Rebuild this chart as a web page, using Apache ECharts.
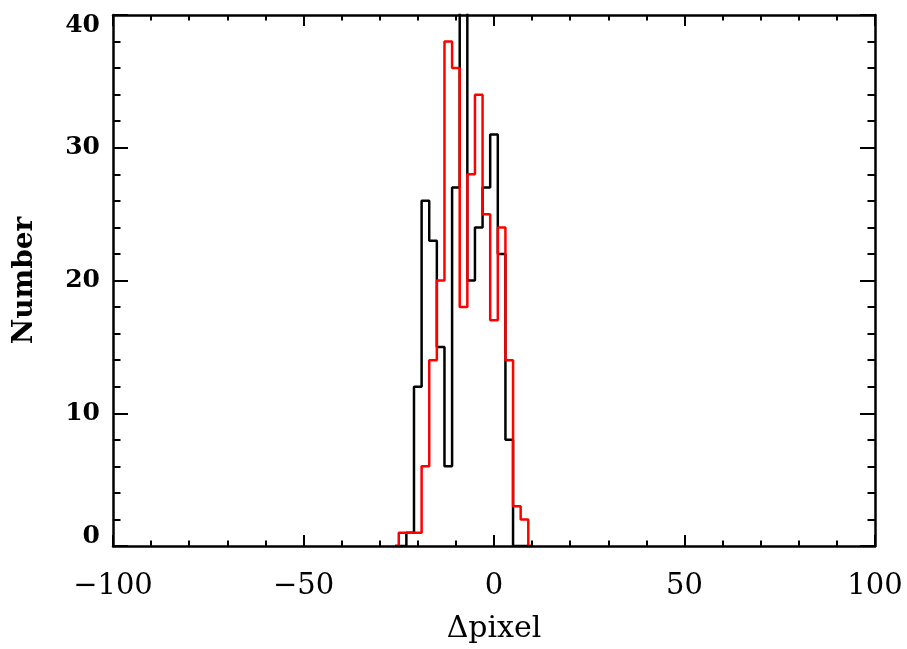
<!DOCTYPE html>
<html>
<head>
<meta charset="utf-8">
<script src="https://cdn.jsdelivr.net/npm/echarts@6/dist/echarts.min.js"></script>
<style>
html,body{margin:0;padding:0;background:#fff;overflow:hidden;}
#chart{width:907px;height:649px;}
</style>
</head>
<body>
<div id="chart"></div>
<script>
// Histogram bin centers (bin width 2)
var binCenters = [-24, -22, -20, -18, -16, -14, -12, -10, -8, -6, -4, -2, 0, 2, 4, 6, 8];
var blackCounts = [0, 1, 12, 26, 23, 15, 6, 27, 41, 20, 24, 27, 31, 22, 8, 0, 0];
var redCounts   = [1, 1, 1, 6, 14, 20, 38, 36, 18, 28, 34, 25, 17, 24, 14, 3, 2];
var xRange = [-100, 100];
var yRange = [0, 40];
var xTickStep = 50;
var yTickStep = 10;
var xTitle = '\u0394pixel';
var yTitle = 'Number';

// Step line through bin centers, with an empty neighbouring bin at each side so edges close at zero
function stepData(centers, counts) {
  var w = centers[1] - centers[0];
  var out = [[centers[0] - w, 0]];
  for (var i = 0; i < centers.length; i++) out.push([centers[i], counts[i]]);
  out.push([centers[centers.length - 1] + w, 0]);
  return out;
}

var font = 'DejaVu Serif';
var axisLine = {show: true, onZero: false, lineStyle: {color: '#000', width: 2.5}};
var tickStyle = {color: '#000', width: 2};

var chart = echarts.init(document.getElementById('chart'), null, {renderer: 'canvas', width: 907, height: 649});
chart.setOption({
  animation: false,
  backgroundColor: '#fff',
  grid: {left: 113, top: 15, width: 762, height: 540, containLabel: false},
  xAxis: [{
    type: 'value', position: 'bottom', min: xRange[0], max: xRange[1], interval: xTickStep, z: 10,
    axisLine: axisLine,
    axisTick: {show: true, inside: true, length: 11, lineStyle: tickStyle},
    minorTick: {show: true, splitNumber: 5, length: 5.5, lineStyle: tickStyle},
    splitLine: {show: false},
    axisLabel: {
      show: true, margin: 26, color: '#000', fontFamily: font, fontSize: 29,
      formatter: function (v) { return v < 0 ? '\u2212' + Math.abs(v) : String(v); }
    },
    name: xTitle, nameLocation: 'middle', nameGap: 68,
    nameTextStyle: {color: '#000', fontFamily: font, fontSize: 30}
  }, {
    type: 'value', position: 'top', min: xRange[0], max: xRange[1], interval: xTickStep, z: 10,
    axisLine: axisLine,
    axisTick: {show: true, inside: true, length: 11, lineStyle: tickStyle},
    minorTick: {show: true, splitNumber: 5, length: 5.5, lineStyle: tickStyle},
    splitLine: {show: false},
    axisLabel: {show: false}
  }],
  yAxis: [{
    type: 'value', position: 'left', min: yRange[0], max: yRange[1], interval: yTickStep, z: 10,
    axisLine: axisLine,
    axisTick: {show: true, inside: true, length: 15, lineStyle: tickStyle},
    minorTick: {show: true, splitNumber: 5, length: 7.5, lineStyle: tickStyle},
    splitLine: {show: false},
    axisLabel: {
      show: true, margin: 13, color: '#000', fontFamily: font, fontWeight: 'bold', fontSize: 25,
      lineHeight: 20,
      verticalAlignMinLabel: 'bottom', verticalAlignMaxLabel: 'top'
    },
    name: yTitle, nameLocation: 'middle', nameGap: 74, nameRotate: 90,
    nameTextStyle: {color: '#000', fontFamily: font, fontWeight: 'bold', fontSize: 28}
  }, {
    type: 'value', position: 'right', min: yRange[0], max: yRange[1], interval: yTickStep, z: 10,
    axisLine: axisLine,
    axisTick: {show: true, inside: true, length: 15, lineStyle: tickStyle},
    minorTick: {show: true, splitNumber: 5, length: 7.5, lineStyle: tickStyle},
    splitLine: {show: false},
    axisLabel: {show: false}
  }],
  series: [{
    type: 'line', step: 'middle', xAxisIndex: 0, yAxisIndex: 0,
    data: stepData(binCenters, blackCounts),
    showSymbol: false, symbol: 'none', clip: true,
    lineStyle: {color: '#000', width: 2.5}, z: 1
  }, {
    type: 'line', step: 'middle', xAxisIndex: 0, yAxisIndex: 0,
    data: stepData(binCenters, redCounts),
    showSymbol: false, symbol: 'none', clip: true,
    lineStyle: {color: '#ff0000', width: 2.5}, z: 2
  }]
});
</script>
</body>
</html>
